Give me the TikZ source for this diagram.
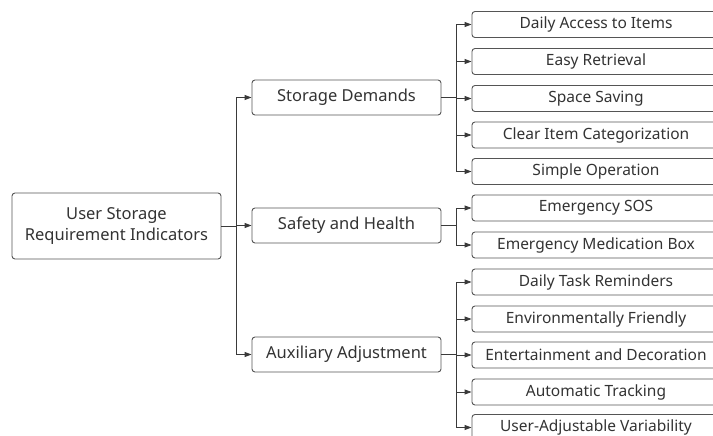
\documentclass[tikz,border=0pt]{standalone}
\usepackage{fontspec}
\setmainfont{Noto Sans}
\usetikzlibrary{arrows.meta}
\definecolor{edge}{HTML}{3A3A3A}
\definecolor{boxline}{HTML}{555555}
\definecolor{txt}{HTML}{333333}
\begin{document}
\begin{tikzpicture}[x=1pt,y=-1pt,
  box/.style={draw=boxline,line width=0.9pt,rounded corners=3pt,fill=white,text=txt,align=center,inner sep=0pt},
  rootbox/.style={box,minimum width=209pt,minimum height=66pt,font=\fontsize{16.5}{21}\selectfont},
  midbox/.style={box,minimum width=189pt,minimum height=35pt,font=\fontsize{16.5}{20}\selectfont},
  leafbox/.style={box,minimum width=248pt,minimum height=26pt,font=\fontsize{15.5}{18}\selectfont},
  conn/.style={draw=edge,line width=0.9pt,-{Triangle[length=7pt,width=5pt]}}]
\useasboundingbox (0,0) rectangle (713,436);
\clip (0,0) rectangle (713,436);
\node[rootbox] (root) at (116.5,226) {User Storage\\Requirement Indicators};
\node[midbox] (m1) at (346.5,97.5) {Storage Demands};
\node[midbox] (m2) at (346.5,225.5) {Safety and Health};
\node[midbox] (m3) at (346.5,354.5) {Auxiliary Adjustment};
\node[leafbox] (a1) at (596,24.5) {Daily Access to Items};
\node[leafbox] (a2) at (596,61.5) {Easy Retrieval};
\node[leafbox] (a3) at (596,98.5) {Space Saving};
\node[leafbox] (a4) at (596,135) {Clear Item Categorization};
\node[leafbox] (a5) at (596,171.5) {Simple Operation};
\node[leafbox] (b1) at (596,208) {Emergency SOS};
\node[leafbox] (b2) at (596,245) {Emergency Medication Box};
\node[leafbox] (c1) at (596,282) {Daily Task Reminders};
\node[leafbox] (c2) at (596,319) {Environmentally Friendly};
\node[leafbox] (c3) at (596,355) {Entertainment and Decoration};
\node[leafbox] (c4) at (596,392) {Automatic Tracking};
\node[leafbox] (c5) at (596,427.5) {User-Adjustable Variability};
\foreach \m in {m1,m2,m3}
  \draw[conn] (root.east) -- ++(15,0) |- (\m.west);
\foreach \l in {a1,a2,a3,a4,a5}
  \draw[conn] (m1.east) -- ++(15,0) |- (\l.west);
\foreach \l in {b1,b2}
  \draw[conn] (m2.east) -- ++(15,0) |- (\l.west);
\foreach \l in {c1,c2,c3,c4,c5}
  \draw[conn] (m3.east) -- ++(15,0) |- (\l.west);
\end{tikzpicture}
\end{document}
